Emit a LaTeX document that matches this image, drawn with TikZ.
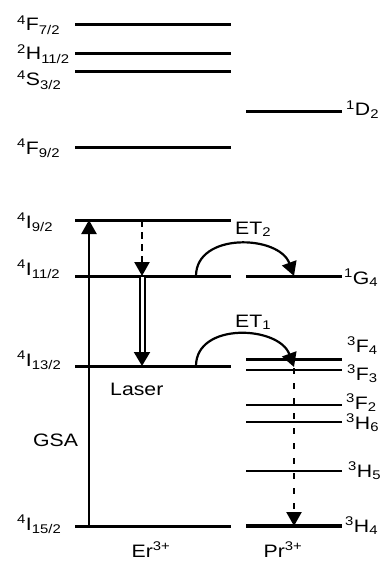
\documentclass[tikz,border=0pt]{standalone}
\usepackage{fontspec}
\setmainfont{Liberation Sans}[FakeStretch=1.18]
\usetikzlibrary{arrows.meta}
\newcommand{\term}[3]{\textsuperscript{#1}#2\textsubscript{#3}}
\tikzset{
  level/.style={line width=3pt},
  thinlevel/.style={line width=2pt},
  bigtip/.style={-{Triangle[width=15pt,length=14pt]}},
}

\begin{document}
\begin{tikzpicture}[x=1pt, y=-1pt, every node/.style={inner sep=0pt, font=\fontsize{18}{21}\selectfont}]
\useasboundingbox (0,0) rectangle (381,564);
% Er3+ levels
\draw[level] (75,25) -- (231,25);
\draw[level] (75,54) -- (231,54);
\draw[level] (75,72) -- (231,72);
\draw[level] (75,148) -- (231,148);
\draw[level] (75,220) -- (231,220);
\draw[level] (75,276) -- (231,276);
\draw[level] (75,366) -- (231,366);
\draw[level] (75,526) -- (231,526);
% Pr3+ levels
\draw[level] (246,112) -- (342,112);
\draw[level] (246,276) -- (342,276);
\draw[level] (246,359) -- (342,359);
\draw[level, line width=2.6pt] (246,370) -- (342,370);
\draw[thinlevel] (246,405) -- (342,405);
\draw[thinlevel] (246,422) -- (342,422);
\draw[thinlevel] (246,471) -- (342,471);
\draw[level, line width=3.4pt] (246,526) -- (342,526);
% level labels
\node[anchor=base west] (lF72) at (17,31) {\term{4}{F}{7/2}};
\node[anchor=base west] (lH112) at (17,60) {\term{2}{H}{11/2}};
\node[anchor=base west] (lS32) at (17,86) {\term{4}{S}{3/2}};
\node[anchor=base west] (lF92) at (17,154) {\term{4}{F}{9/2}};
\node[anchor=base west] (lI92) at (17,228) {\term{4}{I}{9/2}};
\node[anchor=base west] (lI112) at (17,275) {\term{4}{I}{11/2}};
\node[anchor=base west] (lI132) at (17,366) {\term{4}{I}{13/2}};
\node[anchor=base west] (lI152) at (17,530) {\term{4}{I}{15/2}};
\node[anchor=base west] (lD2) at (346,116) {\term{1}{D}{2}};
\node[anchor=base west] (lG4) at (344,284) {\term{1}{G}{4}};
\node[anchor=base west] (lF4) at (347,352) {\term{3}{F}{4}};
\node[anchor=base west] (lF3) at (347,380) {\term{3}{F}{3}};
\node[anchor=base west] (lF2) at (346,409) {\term{3}{F}{2}};
\node[anchor=base west] (lH6) at (346,429) {\term{3}{H}{6}};
\node[anchor=base west] (lH5) at (348,477) {\term{3}{H}{5}};
\node[anchor=base west] (lH4) at (345,532) {\term{3}{H}{4}};
\node[anchor=base] (er) at (151,557) {Er\textsuperscript{3+}};
\node[anchor=base] (pr) at (283,557) {Pr\textsuperscript{3+}};
\node[anchor=base west] (laser) at (110,395) {Laser};
\node[anchor=base west] (gsa) at (33,446) {GSA};
\node[anchor=base west] (et2) at (235,234) {ET\textsubscript{2}};
\node[anchor=base west] (et1) at (235,327) {ET\textsubscript{1}};
% transition end points
\coordinate (gsaS) at (89,526);
\coordinate (gsaE) at (89,220);
\coordinate (nrS) at (142,220);
\coordinate (nrE) at (142,276);
\coordinate (lasS) at (142,277);
\coordinate (lasE) at (142,366);
\coordinate (et2S) at (196,276);
\coordinate (et2E) at (294,276);
\coordinate (et1S) at (196,366);
\coordinate (et1E) at (294,367);
\coordinate (prS) at (294,368);
\coordinate (prE) at (294,526);
% transitions
\draw[line width=2.4pt, bigtip] (gsaS) -- (gsaE);
\draw[line width=2.4pt, dash pattern=on 7pt off 5pt, bigtip] (nrS) -- (nrE);
\draw[line width=2pt, double distance=3pt, -{Triangle[width=16pt,length=14pt]}] (lasS) -- (lasE);
\draw[line width=2.2pt, bigtip] (et2S) to[out=90, in=110, looseness=1.15] (et2E);
\draw[line width=2.2pt, bigtip] (et1S) to[out=90, in=110, looseness=1.15] (et1E);
\draw[line width=2.4pt, dash pattern=on 6pt off 9pt, bigtip] (prS) -- (prE);
\end{tikzpicture}
\end{document}
